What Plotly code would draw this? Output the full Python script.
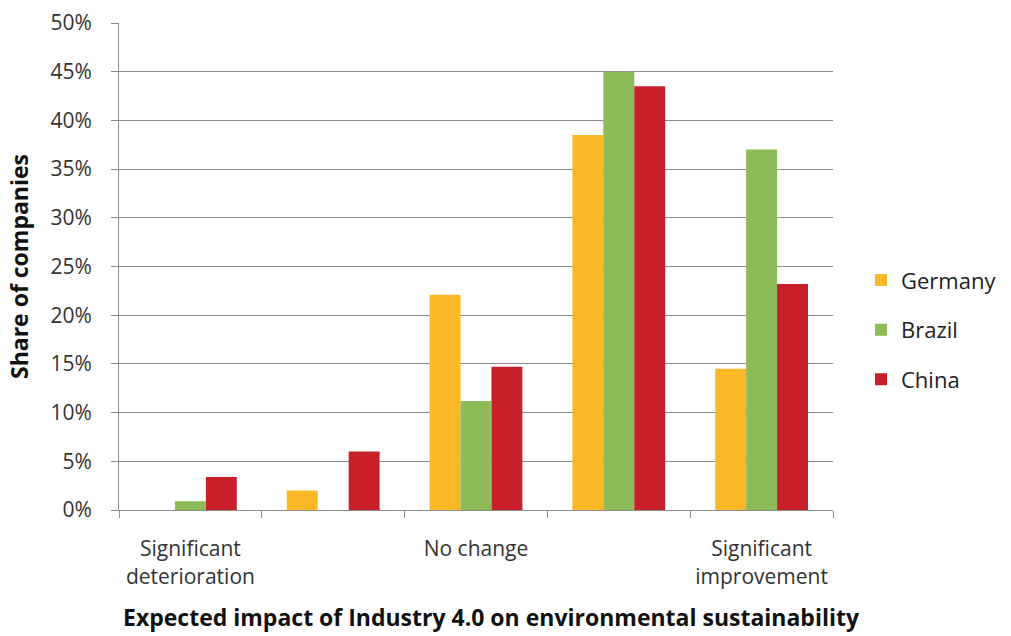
import plotly.graph_objects as go

categories = ["Significant<br>deterioration", " ", "No change", "  ", "Significant<br>improvement"]
countries = ["Germany", "Brazil", "China"]
germany = [0, 2.0, 22.1, 38.5, 14.5]
brazil = [0.9, 0, 11.2, 45.0, 37.0]
china = [3.4, 6.0, 14.7, 43.5, 23.2]
colors = ["#FBB826", "#8CBB58", "#C8202A"]
y_ticks = [0, 5, 10, 15, 20, 25, 30, 35, 40, 45, 50]

fig = go.Figure()
for name, vals, col in zip(countries, [germany, brazil, china], colors):
    fig.add_trace(go.Bar(x=categories, y=vals, name=name, marker=dict(color=col, line=dict(width=0)),
                         legendgroup=name))

font_family = "Open Sans, DejaVu Sans, sans-serif"
fig.update_layout(
    width=1011, height=636,
    margin=dict(l=119, r=178, t=23, b=126, autoexpand=False),
    paper_bgcolor="white", plot_bgcolor="white",
    barmode="group", bargap=0.35, bargroupgap=0,
    font=dict(family=font_family, color="#333333", size=21),
    legend=dict(x=861 / 1011, xref="container", xanchor="left", y=0.37, yanchor="middle",
                font=dict(size=22, color="#222222"), tracegroupgap=18,
                itemwidth=30),
    xaxis=dict(
        type="category", tickson="boundaries", ticks="outside", ticklen=7,
        tickcolor="#8c8c8c", showline=True, linecolor="#8c8c8c", linewidth=1,
        showgrid=False, tickfont=dict(size=21, color="#333333"),
        tickangle=0, automargin=False,
        ticklabelstandoff=20,
    ),
    yaxis=dict(
        range=[0, 50], tickvals=y_ticks, ticktext=[f"{v}%" for v in y_ticks],
        showgrid=True, gridcolor="#8c8c8c", gridwidth=1,
        ticks="outside", ticklen=7, tickcolor="#8c8c8c",
        showline=True, linecolor="#8c8c8c", linewidth=1,
        zeroline=False, tickfont=dict(size=21, color="#333333"),
        automargin=False,
        ticklabelstandoff=15,
        title=dict(text="<b>Share of companies</b>", font=dict(size=23, color="#111111"), standoff=15),
    ),
    annotations=[dict(
        text="<b>Expected impact of Industry 4.0 on environmental sustainability</b>",
        xref="paper", yref="paper", x=(491 - 119) / 714, y=(510 - 617) / 487,
        xanchor="center", yanchor="middle", showarrow=False,
        font=dict(size=23, color="#111111", family=font_family),
    )],
)

fig.write_html("out.html")
